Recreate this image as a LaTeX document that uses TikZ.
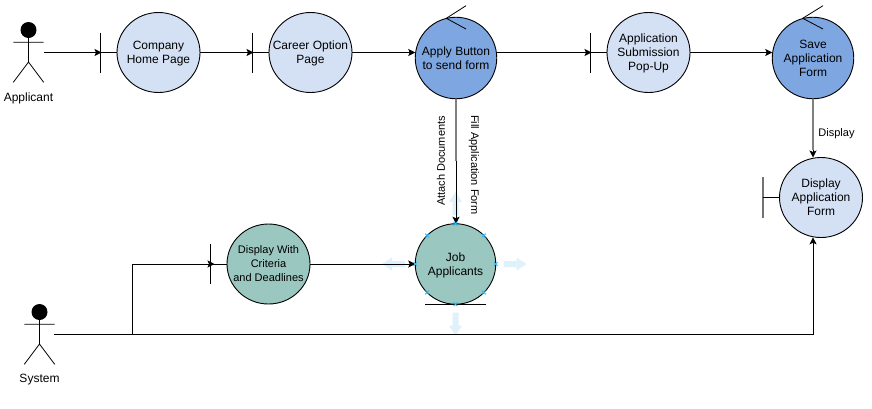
\documentclass[tikz,border=0pt]{standalone}
\usepackage{fontspec}
\setmainfont{Liberation Sans}
\usetikzlibrary{arrows.meta}
\definecolor{lightuc}{HTML}{D4E1F5}
\definecolor{bluuc}{HTML}{7EA6E0}
\definecolor{tealuc}{HTML}{9AC7BF}
\definecolor{hintc}{HTML}{DFF2FC}
\definecolor{crossc}{HTML}{29B6F2}
\tikzset{
  ucase/.style={circle,draw=black,line width=0.9pt,inner sep=0pt,outer sep=0pt,minimum size=82pt,align=center,text=black,text depth=-1pt,font=\fontsize{12}{14}\selectfont},
  ulabel/.style={rectangle,inner sep=0pt,outer sep=0pt,minimum width=83pt,minimum height=80pt,align=center,text=black,text depth=-1pt,font=\fontsize{12}{14}\selectfont},
  uoval/.style={draw=black,line width=0.9pt},
  smalltxt/.style={inner sep=0pt,text=black,font=\fontsize{11}{14}\selectfont,align=center},
  acttxt/.style={inner sep=0pt,text=black,font=\fontsize{12}{14}\selectfont},
  conn/.style={draw=black,line width=1pt},
  arr/.style={conn,-{Stealth[length=7pt,width=7pt,inset=1.5pt]}},
  softline/.style={draw=black!50,line width=2pt},
  stick/.style={draw=black,line width=0.8pt},
  crossmark/.style={draw=crossc,line width=0.8pt}
}
\newcommand{\hintshape}[2]{\fill[hintc,shift={(#1)},rotate=#2] (0,-3)--(13,-3)--(13,-6.5)--(23,0)--(13,6.5)--(13,3)--(0,3)--cycle;}
\newcommand{\actorfig}[2]{%
  \fill[black] (#1,#2) circle (8);
  \draw[stick] (#1,#2) -- (#1,#2+32) (#1-15.2,#2+12.3) -- (#1+15.2,#2+12.3)
     (#1-15.2,#2+52.3) -- (#1,#2+32) -- (#1+15.2,#2+52.3);
}
\newcommand{\ovalcase}[5]{% name, position, fill, extra style, text
  \path[uoval,fill=#3,draw] (#2) ellipse [x radius=41.5,y radius=40];
  \node[ulabel,#4] (#1) at (#2) {#5};
}
\begin{document}
\begin{tikzpicture}[x=1pt,y=-1pt]
\useasboundingbox (0,0) rectangle (872,408);
\fill[white] (0,0) rectangle (872,408);

% selection hints round Job Applicants
\hintshape{405,264}{180}
\hintshape{503.5,264}{0}
\hintshape{455.5,215}{90}
\hintshape{455.5,312.5}{-90}

% actors
\actorfig{28.5}{30}
\actorfig{39.5}{312}
\node[acttxt] (applicant) at (28.5,98) {Applicant};
\node[acttxt] (system) at (39.5,380) {System};
\coordinate (aout) at (43.7,52.5);
\coordinate (sout) at (54,334.3);

% use cases
\ovalcase{home}{158.5,52.5}{lightuc}{}{Company\\Home Page}
\ovalcase{career}{310.5,52.5}{lightuc}{}{Career Option\\Page}
\node[ucase,fill=bluuc,minimum size=81.5pt] (apply) at (456,58) {Apply Button\\to send form};
\ovalcase{submit}{648.5,52.5}{lightuc}{}{Application\\Submission\\Pop-Up}
\node[ucase,fill=bluuc,minimum size=81.5pt] (save) at (813,58) {Save\\Application\\Form};
\ovalcase{dispform}{821,197.5}{lightuc}{}{Display\\Application\\Form}
\node[ucase,fill=tealuc,minimum size=80.5pt] (job) at (455.5,264) {Job\\Applicants};
\ovalcase{dispcrit}{268.5,264}{tealuc}{font=\fontsize{11}{14}\selectfont}{Display With\\Criteria\\and Deadlines}

% boundary bars
\coordinate (b1) at (100.5,52.5);
\coordinate (b2) at (252.5,52.5);
\coordinate (b3) at (590.5,52.5);
\coordinate (b4) at (210.5,264);
\coordinate (b5) at (763,197.5);
\draw[stick] (100.5,32.5) -- (100.5,72.5);
\draw[stick] (252.5,32.5) -- (252.5,72.5);
\draw[stick] (590.5,32.5) -- (590.5,72.5);
\draw[stick] (210.5,244) -- (210.5,284);
\draw[draw=black!55,line width=1.6pt] (763,177) -- (763,218);
\draw[stick] (425,304.5) -- (486,304.5);

% control ticks
\draw[stick] (466,5.7) -- (446.3,18.3) -- (466,29);
\draw[stick] (823,5.7) -- (802.7,18.3) -- (823,29);

% connectors
\draw[arr] (aout) -- ([xshift=1pt]b1);
\draw[conn] (b1) -- (home.west);
\draw[arr] (home.east) -- ([xshift=1pt]b2);
\draw[conn] (b2) -- (career.west);
\draw[arr] (career.east) -- (apply.west |- career.east);
\draw[arr] (apply.east |- b3) -- ([xshift=1pt]b3);
\draw[conn] (b3) -- (submit.west);
\draw[arr] (submit.east) -- (save.west |- submit.east);
\coordinate (mid) at (456,161);
\draw[softline] (apply.south) -- (mid);
\draw[arr] (mid) -- (job.north -| mid);
\coordinate (disptip) at (813,157.5);
\coordinate (dispmid) at (813,150);
\draw[softline] (save.south) -- (dispmid);
\draw[arr] (dispmid) -- (disptip);
\draw[conn] (b5) -- (dispform.west);
\coordinate (branch) at (132.5,334.3);
\draw[conn] (sout) -- (branch);
\draw[arr] (branch) |- ([xshift=4pt]b4);
\draw[conn] (b4) -- (dispcrit.west);
\coordinate (disptail) at (813,237.3);
\draw[arr] (branch) -| (disptail);
\draw[arr] (dispcrit.east) -- (job.west);

% labels
\node[smalltxt,rotate=90] (attach) at (441,161) {Attach Documents};
\node[smalltxt,rotate=-90,fill=white] (fill) at (474,165) {Fill Application Form};
\node[smalltxt] (displaylbl) at (836.5,133.5) {Display};

% selection crosses
\foreach \a in {0,45,...,315}{
  \draw[crossmark,shift={(job.\a)}] (-1.8,-1.8) -- (1.8,1.8) (-1.8,1.8) -- (1.8,-1.8);
}
\end{tikzpicture}
\end{document}
